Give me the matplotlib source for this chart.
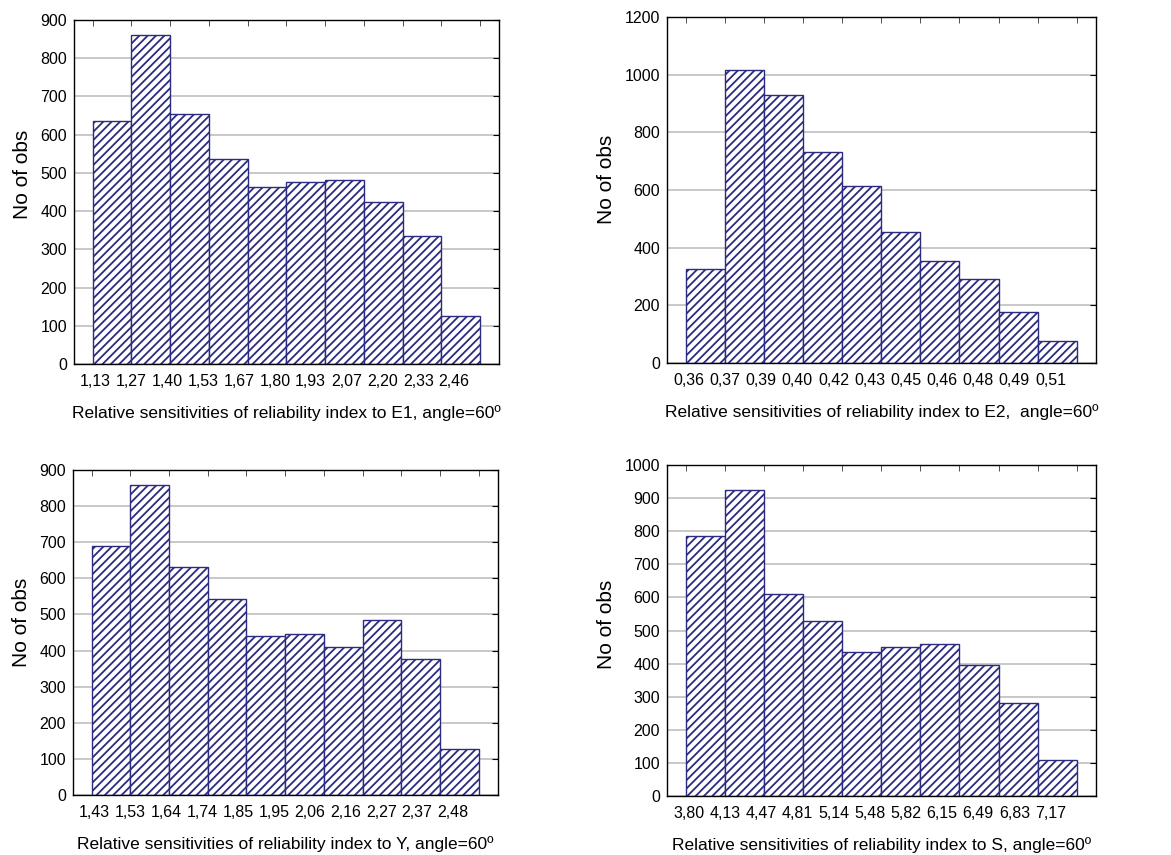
import numpy as np
import matplotlib
matplotlib.use("Agg")
import matplotlib.pyplot as plt

plt.rcParams['font.family'] = ['Liberation Sans', 'DejaVu Sans']
plt.rcParams['hatch.linewidth'] = 1.3

# histogram counts per bin (10 bins, 11 bin-edge labels)
e1_counts = [636, 862, 655, 536, 463, 477, 482, 423, 334, 125]
e1_labels = ["1,13", "1,27", "1,40", "1,53", "1,67", "1,80", "1,93", "2,07", "2,20", "2,33", "2,46"]

e2_counts = [326, 1017, 928, 732, 615, 454, 355, 290, 177, 75]
e2_labels = ["0,36", "0,37", "0,39", "0,40", "0,42", "0,43", "0,45", "0,46", "0,48", "0,49", "0,51"]

y_counts = [690, 858, 630, 543, 440, 445, 409, 484, 376, 127]
y_labels = ["1,43", "1,53", "1,64", "1,74", "1,85", "1,95", "2,06", "2,16", "2,27", "2,37", "2,48"]

s_counts = [786, 926, 611, 530, 434, 449, 459, 397, 281, 110]
s_labels = ["3,80", "4,13", "4,47", "4,81", "5,14", "5,48", "5,82", "6,15", "6,49", "6,83", "7,17"]

navy = '#2b2b80'


def draw_hist(ax, counts, labels, xlabel, ymax, ystep, ylab_y=0.53):
    edges = np.arange(len(counts) + 1)
    ax.bar(edges[:-1], counts, width=1.0, align='edge', facecolor='white',
           edgecolor=navy, hatch='////', linewidth=1.0, zorder=2)
    ax.set_xlim(-0.48, len(counts) + 0.49)
    ax.set_ylim(0, ymax)
    ax.set_yticks(np.arange(0, ymax + 1, ystep))
    ax.yaxis.grid(True, color='#c4c4c4', linewidth=1.3)
    ax.set_axisbelow(True)

    # Statistica-style labels: slightly compressed relative to bin edges
    label_pos = 0.08 + np.arange(len(labels)) * 0.925
    ax.set_xticks(label_pos)
    ax.set_xticklabels(labels)
    ax.set_xticks(edges, minor=True)
    ax.tick_params(axis='x', which='major', length=0, pad=7, labelsize=11.5)
    ax.tick_params(axis='x', which='minor', bottom=False, top=True,
                   direction='in', length=4, color='#333333')
    ax.tick_params(axis='y', left=False, right=True, direction='in',
                   length=4, labelsize=11.5, pad=5)
    for sp in ax.spines.values():
        sp.set_linewidth(1.0)
    ax.set_ylabel("No of obs", fontsize=15, labelpad=6, y=ylab_y)
    ax.set_xlabel(xlabel, fontsize=12.5, labelpad=12)


fig = plt.figure(figsize=(11.71, 8.55), dpi=100)

ax1 = fig.add_axes([0.0632, 0.5743, 0.3629, 0.4023])
ax2 = fig.add_axes([0.5696, 0.5754, 0.3663, 0.4047])
ax3 = fig.add_axes([0.0623, 0.0702, 0.3629, 0.3801])
ax4 = fig.add_axes([0.5696, 0.0690, 0.3663, 0.3871])

draw_hist(ax1, e1_counts, e1_labels,
          "Relative sensitivities of reliability index to E1, angle=60\u00ba", 900, 100, 0.55)
draw_hist(ax2, e2_counts, e2_labels,
          "Relative sensitivities of reliability index to E2,  angle=60\u00ba", 1200, 200)
draw_hist(ax3, y_counts, y_labels,
          "Relative sensitivities of reliability index to Y, angle=60\u00ba", 900, 100)
draw_hist(ax4, s_counts, s_labels,
          "Relative sensitivities of reliability index to S, angle=60\u00ba", 1000, 100, 0.52)

fig.savefig("out.png", dpi=100)
